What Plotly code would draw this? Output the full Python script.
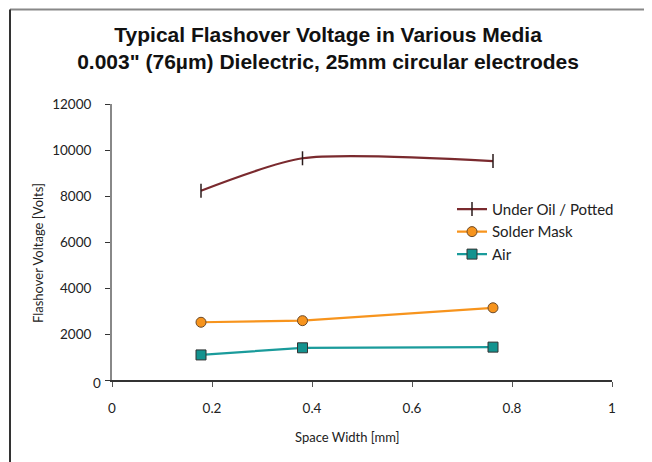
import plotly.graph_objects as go

space_width = [0.178, 0.381, 0.762]
oil_potted = [8230, 9640, 9520]
solder_mask = [2510, 2580, 3140]
air = [1090, 1400, 1430]

y_ticks = [0, 2000, 4000, 6000, 8000, 10000, 12000]
y_tick_text = ["", "2000", "4000", "6000", "8000", "10000", "12000"]
x_ticks = [0, 0.2, 0.4, 0.6, 0.8, 1]
x_tick_text = ["0", "0.2", "0.4", "0.6", "0.8", "1"]

LBL = dict(family="Lato", size=13.5, color="#222")

fig = go.Figure()
fig.add_trace(go.Scatter(
    x=space_width, y=oil_potted, name="Under Oil / Potted", mode="lines+markers",
    line=dict(color="#7a2a2e", width=2.2, shape="spline", smoothing=0.7),
    marker=dict(symbol="line-ns", size=10, line=dict(color="#2a1a1a", width=1.5)),
))
fig.add_trace(go.Scatter(
    x=space_width, y=solder_mask, name="Solder Mask", mode="lines+markers",
    line=dict(color="#f7941d", width=2.2),
    marker=dict(symbol="circle", size=10, color="#f7941d", line=dict(color="#6b4a2a", width=1)),
))
fig.add_trace(go.Scatter(
    x=space_width, y=air, name="Air", mode="lines+markers",
    line=dict(color="#1a9b9b", width=2.2),
    marker=dict(symbol="square", size=10, color="#13938f", line=dict(color="#333333", width=1)),
))

fig.update_layout(
    width=644, height=454,
    margin=dict(l=104, r=40, t=96, b=82),
    paper_bgcolor="white", plot_bgcolor="white",
    showlegend=True,
    legend=dict(x=0.68, y=0.678, xanchor="left", yanchor="top",
                font=dict(family="Lato", size=15, color="#222"),
                bgcolor="rgba(0,0,0,0)", tracegroupgap=0, itemwidth=30),
    title=dict(
        text="Typical Flashover Voltage in Various Media<br>0.003\" (76µm) Dielectric, 25mm circular electrodes",
        x=0.497, xref="container", xanchor="center", y=0.925, yref="container", yanchor="top",
        font=dict(family="Liberation Sans", size=21, color="#111", weight="bold"),
    ),
    xaxis=dict(range=[0, 1], tickvals=x_ticks, ticktext=x_tick_text,
               showgrid=False, zeroline=False, showline=True, linecolor="#333", linewidth=1.5,
               ticks="outside", ticklen=5, tickcolor="#555", tickwidth=1,
               tickfont=LBL, ticklabelstandoff=10),
    yaxis=dict(range=[0, 12000], tickvals=y_ticks, ticktext=y_tick_text,
               showgrid=False, zeroline=False, showline=True, linecolor="#888", linewidth=2,
               ticks="outside", ticklen=5, tickcolor="#333", tickwidth=1,
               tickfont=LBL, ticklabelstandoff=11),
    annotations=[
        dict(text="Space Width [mm]", xref="paper", yref="paper", x=(339 - 104) / 500, y=-0.205,
             xanchor="center", yanchor="middle", showarrow=False,
             font=dict(family="Lato", size=13, color="#222")),
        dict(text="Flashover Voltage [Volts]", xref="paper", yref="paper", x=(30 - 104) / 500, y=0.46,
             xanchor="center", yanchor="middle", showarrow=False, textangle=-90,
             font=dict(family="Lato", size=13, color="#222")),
        dict(text="0", xref="paper", yref="y", x=(89 - 104) / 500, y=0, yshift=-3,
             xanchor="center", yanchor="middle", showarrow=False, font=LBL),
    ],
    shapes=[
        dict(type="line", xref="paper", yref="paper", x0=-0.204, x1=1.1, y0=1.342, y1=1.342,
             line=dict(color="#888", width=2)),
        dict(type="line", xref="paper", yref="paper", x0=-0.204, x1=-0.204, y0=1.342, y1=-0.31,
             line=dict(color="#333", width=2)),
    ],
)

fig.write_html("out.html")
